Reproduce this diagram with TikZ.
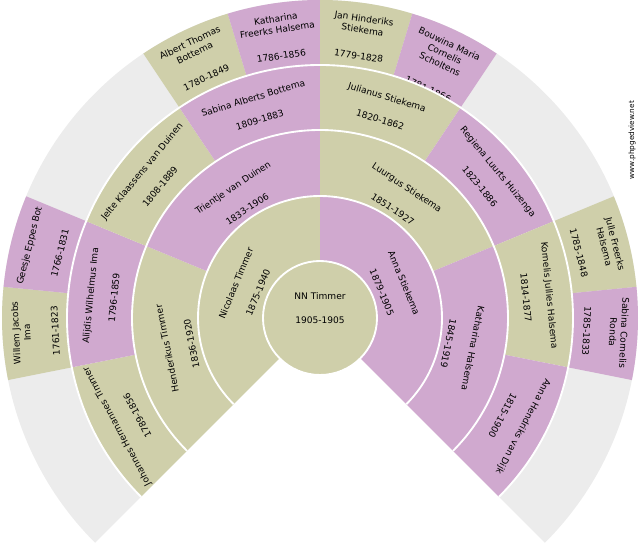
\documentclass[tikz,border=0pt]{standalone}
\usepackage{fontspec}
\setmainfont{DejaVu Sans}
\definecolor{kh}{RGB}{207,207,170}
\definecolor{pu}{RGB}{208,169,207}
\definecolor{gr}{RGB}{236,236,236}
\newcommand\sect[5]{\fill[#5] (#1:#3) arc[start angle=#1,end angle=#2,radius=#3] -- (#2:#4) arc[start angle=#2,end angle=#1,radius=#4] -- cycle;}
\newcommand\lbl[4]{\node[txt,rotate=#2-90] (#1) at (#2:#3) {#4};}
\begin{document}
\begin{tikzpicture}[x=0.75pt,y=0.75pt,
  txt/.style={font=\fontsize{6.8}{8.4}\selectfont,align=center,inner sep=0pt},
  sep/.style={draw=white,line width=1.4pt}]
\useasboundingbox (0,0) rectangle (640,550);
\begin{scope}[shift={(320,232)}]
% gray outer ring
\sect{225}{-45}{318}{253}{gr}
% gen 4
\sect{191.25}{174.375}{318}{253}{kh}
\sect{174.375}{157.5}{318}{253}{pu}
\sect{123.75}{106.875}{318}{253}{kh}
\sect{106.875}{90}{318}{253}{pu}
\sect{90}{73.125}{318}{253}{kh}
\sect{73.125}{56.25}{318}{253}{pu}
\sect{22.5}{5.625}{318}{253}{kh}
\sect{5.625}{-11.25}{318}{253}{pu}
\lbl{g4a}{182.8}{299}{Willem Jacobs\\Ima}
\lbl{g4ad}{182.8}{265}{1761-1823}
\lbl{g4b}{166}{299}{Geesje Eppes Bot}
\lbl{g4bd}{166}{268}{1766-1831}
\lbl{g4c}{115.3}{299}{Albert Thomas\\Bottema}
\lbl{g4cd}{115.3}{266}{1780-1849}
\lbl{g4d}{98.4}{297}{Katharina\\Freerks Halsema}
\lbl{g4dd}{98.4}{265}{1786-1856}
\lbl{g4e}{81.6}{297}{Jan Hinderiks\\Stiekema}
\lbl{g4ed}{81.6}{265}{1779-1828}
\lbl{g4f}{64.7}{292}{Bouwina Maria\\Cornelis\\Scholtens}
\lbl{g4fd}{64.7}{253}{1781-1866}
\lbl{g4g}{14.1}{299}{Julle Freerks\\Halsema}
\lbl{g4gd}{14.1}{267}{1785-1848}
\lbl{g4h}{-2.8}{299}{Sabina Cornelis\\Ronda}
\lbl{g4hd}{-2.8}{267}{1785-1833}
% gen 3
\sect{225}{191.25}{253}{188}{kh}
\sect{191.25}{157.5}{253}{188}{pu}
\sect{157.5}{123.75}{253}{188}{kh}
\sect{123.75}{90}{253}{188}{pu}
\sect{90}{56.25}{253}{188}{kh}
\sect{56.25}{22.5}{253}{188}{pu}
\sect{22.5}{-11.25}{253}{188}{kh}
\sect{-11.25}{-45}{253}{188}{pu}
\lbl{g3a}{208.1}{230}{Johannes Hermannes Timmer}
\lbl{g3ad}{208.1}{207}{1789-1856}
\lbl{g3b}{174.4}{230}{Alijdis Wilhelmus Ima}
\lbl{g3bd}{174.4}{207}{1796-1859}
\lbl{g3c}{140.6}{230}{Jelte Klaassens van Duinen}
\lbl{g3cd}{140.6}{207}{1808-1889}
\lbl{g3d}{106.9}{230}{Sabina Alberts Bottema}
\lbl{g3dd}{106.9}{207}{1809-1883}
\lbl{g3e}{73.1}{230}{Julianus Stiekema}
\lbl{g3ed}{73.1}{207}{1820-1862}
\lbl{g3f}{39.4}{230}{Regiena Luurts Huizenga}
\lbl{g3fd}{39.4}{207}{1823-1886}
\lbl{g3g}{5.6}{230}{Kornelis Jullies Halsema}
\lbl{g3gd}{5.6}{207}{1814-1877}
\lbl{g3h}{-28.1}{230}{Anna Hendriks van Dijk}
\lbl{g3hd}{-28.1}{207}{1815-1900}
% gen 2
\sect{225}{157.5}{188}{122}{kh}
\sect{157.5}{90}{188}{122}{pu}
\sect{90}{22.5}{188}{122}{kh}
\sect{22.5}{-45}{188}{122}{pu}
\lbl{g2a}{191.25}{156}{Henderikus Timmer}
\lbl{g2ad}{191.25}{131}{1836-1920}
\lbl{g2b}{123.75}{156}{Trientje van Duinen}
\lbl{g2bd}{123.75}{131}{1833-1906}
\lbl{g2c}{56.25}{156}{Luurgus Stiekema}
\lbl{g2cd}{56.25}{131}{1851-1927}
\lbl{g2d}{-11.25}{156}{Katharina Halsema}
\lbl{g2dd}{-11.25}{131}{1845-1919}
% gen 1
\sect{225}{90}{122}{57}{kh}
\sect{90}{-45}{122}{57}{pu}
\lbl{g1a}{157.5}{91}{Nicolaas Timmer}
\lbl{g1ad}{157.5}{67}{1875-1940}
\lbl{g1b}{22.5}{91}{Anna Stiekema}
\lbl{g1bd}{22.5}{67}{1879-1905}
% separators
\draw[sep] (225:253) arc[start angle=225,end angle=-45,radius=253];
\draw[sep] (225:188) arc[start angle=225,end angle=-45,radius=188];
\draw[sep] (225:122) arc[start angle=225,end angle=-45,radius=122];
% center
\fill[kh] (0,0) circle[radius=57];
\draw[sep] (0,0) circle[radius=57];
\node[txt] (c) at (0,22) {NN Timmer};
\node[txt] (cd) at (0,-2) {1905-1905};
\end{scope}
\node[txt,rotate=90,font=\fontsize{5.5}{6}\selectfont] (w) at (632,410) {www.phpgedview.net};
\end{tikzpicture}
\end{document}
